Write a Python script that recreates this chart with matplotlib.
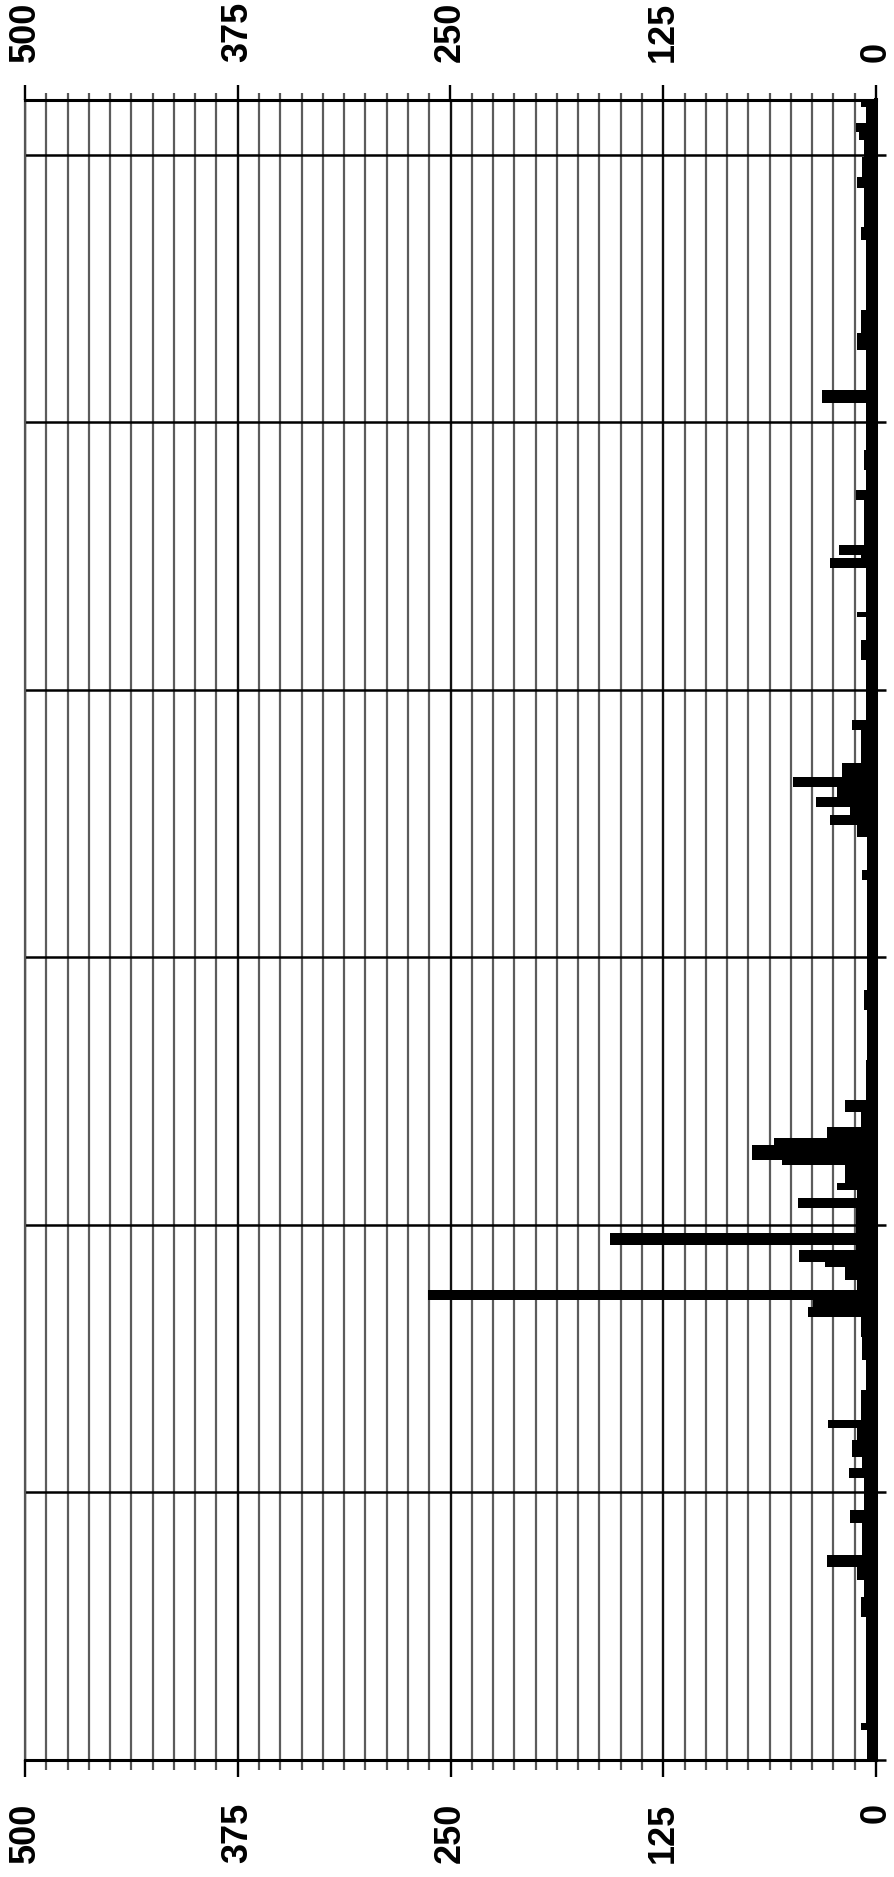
import matplotlib
matplotlib.use("Agg")
import matplotlib.pyplot as plt
import numpy as np
from matplotlib.ticker import MultipleLocator, FixedLocator

# step edges along the (vertical) position axis and intensity per step
edges = [0, 0.56, 0.69, 2.67, 3.05, 3.36, 3.61, 3.83, 4.43, 4.67, 5.27, 5.46,
         5.66, 5.98, 6.20, 6.35, 6.91, 7.47, 7.90, 8.28, 8.46, 8.60, 8.78,
         8.97, 9.21, 9.31, 9.53, 9.62, 9.85, 10.31, 10.50, 10.65, 10.78,
         11.12, 11.21, 11.49, 11.62, 11.83, 12.11, 12.33, 13.08, 14.01, 14.39,
         15.08, 16.44, 16.63, 17.25, 17.47, 17.66, 17.81, 17.99, 18.18, 18.37,
         18.63, 19.25, 19.43, 20.55, 20.93, 21.36, 21.45, 22.27, 22.46, 22.52,
         22.70, 23.54, 23.73, 24.10, 24.48, 25.36, 25.60, 26.35, 26.66, 27.09,
         28.40, 28.64, 29.37, 29.58, 29.95, 30.27, 30.42, 30.59, 30.89, 31.02]
intensity = [5, 9, 6, 9, 7, 11, 29, 8, 15, 7, 16, 8,
             14, 11, 28, 9, 6, 8, 9, 40, 37, 263, 11,
             18, 30, 45, 12, 156, 12, 46, 11, 23,
             18, 55, 73, 60, 29, 9, 18, 6, 5, 7,
             5, 5, 8, 5, 11, 27, 15, 35, 23, 49,
             20, 9, 14, 6, 9, 6, 11, 6, 27, 9,
             22, 7, 12, 6, 7, 6, 32, 6, 11, 9,
             6, 9, 7, 11, 8, 7, 10, 12, 6, 9]

value_ticks = [0, 125, 250, 375, 500]
value_labels = ["0", "125", "250", "375", "500"]
pos_major = [0, 5, 10, 15, 20, 25, 30]

W, H = 894, 1877
fig = plt.figure(figsize=(W / 100, H / 100), dpi=100)
ax = fig.add_axes([25 / W, 1 - 1760 / H, (876 - 25) / W, (1760 - 100) / H])

ax.stairs(intensity, edges, orientation="horizontal", fill=True,
          color="black", baseline=0, zorder=3)

ax.set_xlim(500, 0)
ax.set_ylim(0, 31.02)

ax.xaxis.set_major_locator(FixedLocator(value_ticks))
ax.xaxis.set_minor_locator(MultipleLocator(12.5))
ax.yaxis.set_major_locator(FixedLocator(pos_major))
ax.yaxis.set_minor_locator(FixedLocator([]))

ax.grid(which="minor", axis="x", color="#5c5c5c", lw=1.6, zorder=1)
ax.grid(which="major", axis="x", color="#111111", lw=1.7, zorder=1)
ax.grid(which="major", axis="y", color="black", lw=1.8, zorder=2)
ax.set_axisbelow(True)

font = dict(family=["Liberation Sans", "DejaVu Sans"],
            weight="bold", size=26)

# bottom value labels
ax.set_xticks(value_ticks)
ax.set_xticklabels(value_labels, rotation=90, **font)
ax.tick_params(axis="x", which="major", direction="out", length=12,
               width=1.7, color="black", pad=19)
ax.tick_params(axis="x", which="minor", direction="out", length=7,
               width=1.6, color="#555555")

# right side: position lines poke past the frame
ax.tick_params(axis="y", which="major", left=False, right=True,
               labelleft=False, labelright=False, direction="out",
               length=7, width=1.8, color="black")

# top value labels
top = ax.secondary_xaxis("top")
top.xaxis.set_major_locator(FixedLocator(value_ticks))
top.xaxis.set_minor_locator(MultipleLocator(12.5))
top.set_xticks(value_ticks)
top.set_xticklabels(value_labels, rotation=90, **font)
top.tick_params(axis="x", which="major", direction="out", length=11,
                width=1.7, color="black", pad=16)
top.tick_params(axis="x", which="minor", direction="out", length=5,
                width=1.6, color="#555555")
top.spines["top"].set_visible(False)

for side, lw, col in [("top", 2.2, "black"), ("bottom", 2.2, "black"),
                      ("right", 2.9, "black"), ("left", 1.6, "#555555")]:
    ax.spines[side].set_linewidth(lw)
    ax.spines[side].set_color(col)
    ax.spines[side].set_zorder(4)

fig.savefig("out.png", dpi=100)
